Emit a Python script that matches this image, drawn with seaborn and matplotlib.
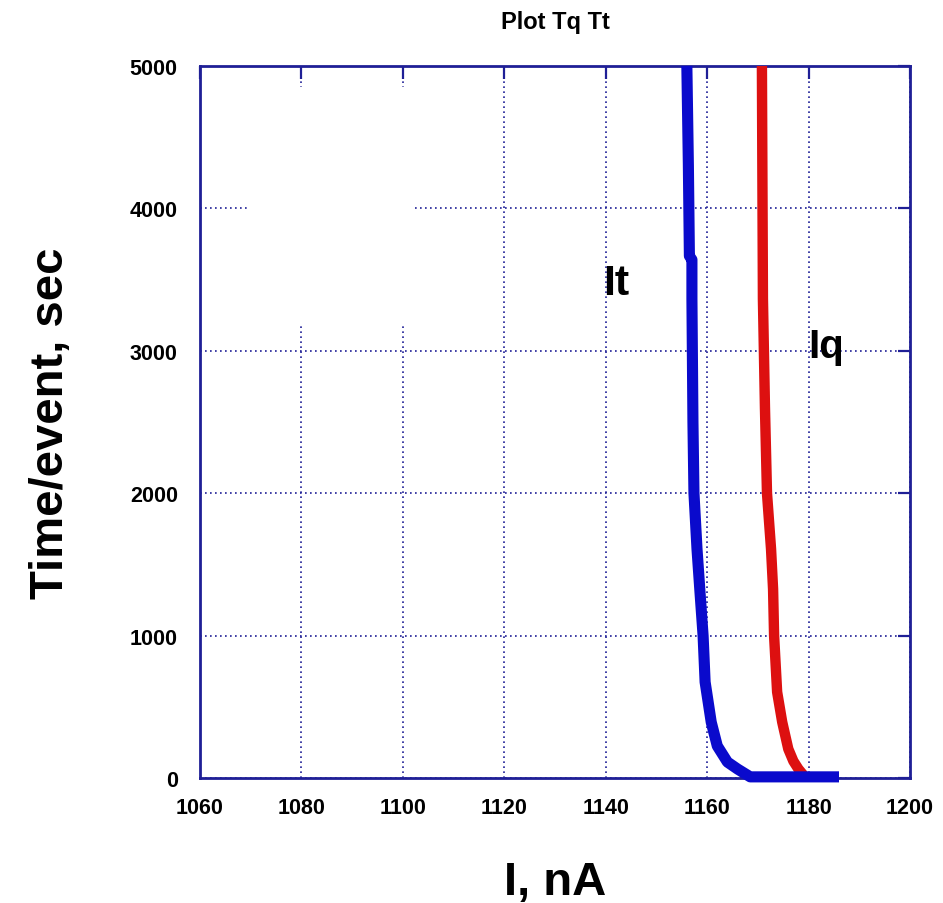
import numpy as np
import pandas as pd
import seaborn as sns
import matplotlib.pyplot as plt
from matplotlib.patches import Rectangle

# Current (nA) vs time per event (sec)
it_current = [1156.0, 1156.3, 1156.5, 1157.0, 1157.0, 1157.2, 1157.4, 1158.0,
              1158.6, 1159.2, 1159.6, 1160.8, 1162.0, 1164.0, 1166.0, 1168.5, 1186.0]
it_time = [5000, 4300, 3666, 3640, 3364, 2500, 2000, 1608,
           1300, 1000, 674, 393, 225, 112, 63, 8, 8]

iq_current = [1170.8, 1171.0, 1171.4, 1171.8, 1172.6, 1173.0, 1173.2, 1173.8,
              1174.8, 1176.0, 1177.0, 1178.0, 1179.0]
iq_time = [5000, 3364, 2600, 2000, 1608, 1327, 1000, 604,
           393, 204, 119, 63, 20]

x_ticks = [1060, 1080, 1100, 1120, 1140, 1160, 1180, 1200]
y_ticks = [0, 1000, 2000, 3000, 4000, 5000]

navy = '#1f1f96'

sns.set_style("white")
plt.rcParams['font.family'] = ['Liberation Sans', 'DejaVu Sans']
plt.rcParams['font.weight'] = 'bold'
plt.rcParams['text.color'] = 'black'
plt.rcParams['axes.labelcolor'] = 'black'

fig = plt.figure(figsize=(9.43, 9.04), dpi=100)
ax = fig.add_axes([200 / 943, 1 - 779 / 904, 710 / 943, 712 / 904])

iq_df = pd.DataFrame({'I': iq_current, 'T': iq_time})
it_df = pd.DataFrame({'I': it_current, 'T': it_time})

sns.lineplot(data=iq_df, x='I', y='T', sort=False, estimator=None, ax=ax,
             color='#dd1010', linewidth=7.5, solid_capstyle='butt', zorder=4)
sns.lineplot(data=it_df, x='I', y='T', sort=False, estimator=None, ax=ax,
             color='#0a0acc', linewidth=8, solid_capstyle='butt', zorder=5,
             clip_on=False)

ax.set_xlim(1060, 1200)
ax.set_ylim(0, 5000)
ax.set_xticks(x_ticks)
ax.set_yticks(y_ticks)

# dotted grid
ax.grid(True, color=navy, linestyle=(0, (1, 2)), linewidth=1.2, zorder=1)
ax.set_axisbelow(True)

# blank box hiding part of the grid (empty legend area)
ax.add_patch(Rectangle((0.066, 0.635), 0.237, 0.335, transform=ax.transAxes,
                       facecolor='white', edgecolor='none', zorder=2))

for sp in ax.spines.values():
    sp.set_color(navy)
    sp.set_linewidth(2)

ax.tick_params(axis='both', which='major', direction='in', length=9, width=1.6,
               color=navy, labelcolor='black', top=True, right=True, labelsize=15.5)
ax.tick_params(axis='x', pad=14)
ax.tick_params(axis='y', pad=16)
for lab in ax.get_xticklabels() + ax.get_yticklabels():
    lab.set_fontweight('bold')

ax.set_title('Plot Tq Tt', fontsize=17, fontweight='bold', pad=27, color='black')
ax.set_xlabel('I, nA', fontsize=34, fontweight='bold', labelpad=30)
ax.set_ylabel('Time/event, sec', fontsize=34, fontweight='bold', labelpad=41)

ax.text(1139.5, 3399, 'It', fontsize=31, fontweight='bold', ha='left', va='baseline', zorder=6)
ax.text(1179.9, 2956, 'Iq', fontsize=29, fontweight='bold', ha='left', va='baseline', zorder=6)

fig.savefig('out.png', dpi=100)
